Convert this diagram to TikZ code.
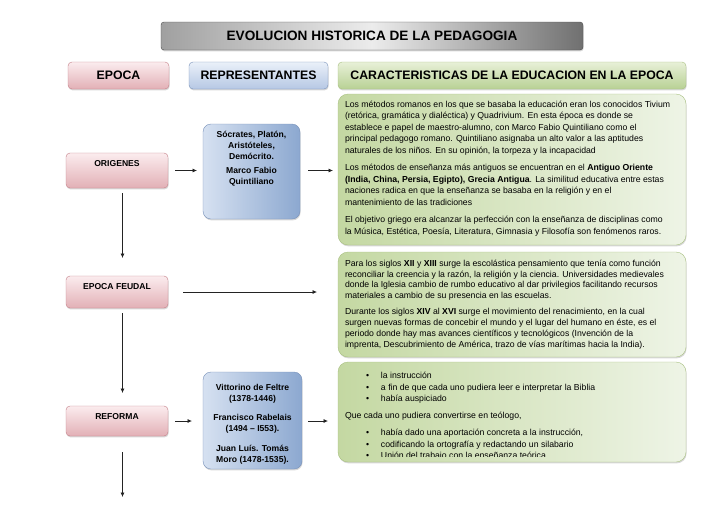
\documentclass[tikz,border=0pt]{standalone}
\usepackage{fontspec}
\setmainfont{Liberation Sans}
\usepackage{tikz}
\usetikzlibrary{positioning,calc,shadows,arrows.meta}

\definecolor{titleL}{RGB}{160,160,160}
\definecolor{titleM}{RGB}{236,236,236}
\definecolor{titleR}{RGB}{112,112,112}
\definecolor{pinkT}{RGB}{251,236,238}
\definecolor{pinkB}{RGB}{226,176,182}
\definecolor{pinkD}{RGB}{196,128,136}
\definecolor{blueT}{RGB}{234,240,249}
\definecolor{blueB}{RGB}{182,200,228}
\definecolor{blueL}{RGB}{214,225,241}
\definecolor{blueR}{RGB}{140,168,208}
\definecolor{blueD}{RGB}{120,145,185}
\definecolor{greenT}{RGB}{232,240,216}
\definecolor{greenB}{RGB}{184,209,148}
\definecolor{greenL}{RGB}{196,216,162}
\definecolor{greenR}{RGB}{238,244,230}
\definecolor{greenD}{RGB}{168,192,128}
\definecolor{arrowC}{RGB}{35,35,35}

\newcommand{\punto}[1]{\hspace*{21pt}\makebox[15pt][l]{\textbullet}#1}

\begin{document}
\begin{tikzpicture}[
    x=1pt, y=-1pt,
    every node/.style={font=\fontsize{8.7}{11.5}\selectfont, outer sep=0pt},
    softshadow/.style={drop shadow={opacity=0.3, shadow xshift=0.6pt, shadow yshift=-1.4pt}},
    titlebar/.style={rectangle, draw=gray!60!black, rounded corners=3pt, left color=titleL, right color=titleR, middle color=titleM, minimum width=422pt, minimum height=28pt, anchor=north west, font=\bfseries\fontsize{13.6}{16}\selectfont, softshadow},
    headbox/.style={rectangle, draw, rounded corners=4pt, minimum height=27pt, inner sep=0pt, anchor=north west, font=\bfseries\fontsize{12.3}{14}\selectfont, softshadow},
    epocahead/.style={headbox, draw=pinkD, top color=pinkT, bottom color=pinkB, minimum width=101pt},
    rephead/.style={headbox, draw=blueD, top color=blueT, bottom color=blueB, minimum width=139pt},
    carhead/.style={headbox, draw=greenD, top color=greenT, bottom color=greenB, minimum width=348pt},
    epoca/.style={rectangle, draw=pinkD, rounded corners=4pt, top color=pinkT, bottom color=pinkB, minimum width=102pt, inner sep=0pt, text height=13.5pt, anchor=north west, font=\bfseries\fontsize{8.6}{10.8}\selectfont, softshadow},
    repbox/.style={rectangle, draw=blueD, rounded corners=8pt, left color=blueL, right color=blueR, anchor=north west, softshadow},
    reptext/.style={anchor=north, align=center, inner sep=0pt, font=\bfseries\fontsize{8.6}{10.8}\selectfont},
    textbox/.style={rectangle, draw=greenD, rounded corners=10pt, left color=greenL, right color=greenR, minimum width=348pt, anchor=north west, softshadow},
    bodytext/.style={anchor=north west, align=left, inner sep=0pt},
    arrow/.style={-{Latex[length=4.5pt,width=4pt]}, draw=arrowC, line width=0.7pt}
]
\useasboundingbox (0,0) rectangle (728,515);
\fill[white] (0,0) rectangle (728,515);

% ============ TITLE AND HEADERS ============
\node[titlebar] (title) at (161,22) {EVOLUCION HISTORICA DE LA PEDAGOGIA};

\node[epocahead] (hepoca) at (68,62) {EPOCA};
\node[rephead, right=20pt of hepoca] (hrep) {REPRESENTANTES};
\node[carhead, right=10pt of hrep] (hcar) {CARACTERISTICAS DE LA EDUCACION EN LA EPOCA};

% ============ EPOCAS (LEFT) ============
\node[epoca, text depth=21.5pt] (origenes) at (66,153) {ORIGENES};
\node[epoca, text depth=18.5pt] (feudal) at (66,276) {EPOCA FEUDAL};
\node[epoca, text depth=16.5pt] (reforma) at (66,406) {REFORMA};

% ============ REPRESENTANTES ============
\node[repbox, minimum width=97pt, minimum height=95pt] (rep1) at (203,124) {};
\node[reptext] (rep1txt) at ([yshift=-7.6pt]rep1.north) {Sócrates, Platón,\\ Aristóteles,\\ Demócrito.\\[3pt] Marco Fabio\\ Quintiliano};

\node[repbox, minimum width=99pt, minimum height=97pt] (rep2) at (203,372) {};
\node[reptext] (rep2txt) at ([yshift=-12pt]rep2.north) {Vittorino de Feltre\\ (1378-1446)\\[9pt] Francisco Rabelais\\ (1494 -- I553).\\[9pt] Juan Luís. Tomás\\ Moro (1478-1535).};

% ============ CARACTERISTICAS ============
\node[textbox, minimum height=151pt] (green1) at (338,94) {};
\node[bodytext] (g1txt) at ([xshift=7pt,yshift=-7pt]green1.north west) {%
Los métodos romanos en los que se basaba la educación eran los conocidos Tivium\\
(retórica, gramática y dialéctica) y Quadrivium. En esta época es donde se\\
establece e papel de maestro-alumno, con Marco Fabio Quintiliano como el\\
principal pedagogo romano. Quintiliano asignaba un alto valor a las aptitudes\\
naturales de los niños. En su opinión, la torpeza y la incapacidad\\[6pt]
Los métodos de enseñanza más antiguos se encuentran en el \textbf{Antiguo Oriente}\\
\textbf{(India, China, Persia, Egipto), Grecia Antigua}. La similitud educativa entre estas\\
naciones radica en que la enseñanza se basaba en la religión y en el\\
mantenimiento de las tradiciones\\[6pt]
El objetivo griego era alcanzar la perfección con la enseñanza de disciplinas como\\
la Música, Estética, Poesía, Literatura, Gimnasia y Filosofía son fenómenos raros.};

\node[textbox, minimum height=105pt, below=7pt of green1] (green2) {};
\node[bodytext, font=\fontsize{8.7}{10.9}\selectfont] (g2txt) at ([xshift=7pt,yshift=-7.7pt]green2.north west) {%
Para los siglos \textbf{XII} y \textbf{XIII} surge la escolástica pensamiento que tenía como función\\
reconciliar la creencia y la razón, la religión y la ciencia. Universidades medievales\\
donde la Iglesia cambio de rumbo educativo al dar privilegios facilitando recursos\\
materiales a cambio de su presencia en las escuelas.\\[5pt]
Durante los siglos \textbf{XIV} al \textbf{XVI} surge el movimiento del renacimiento, en la cual\\
surgen nuevas formas de concebir el mundo y el lugar del humano en éste, es el\\
periodo donde hay mas avances científicos y tecnológicos (Invención de la\\
imprenta, Descubrimiento de América, trazo de vías marítimas hacia la India).};

\node[textbox, minimum height=100pt, below=5pt of green2] (green3) {};
\begin{scope}
  \clip ([xshift=2pt,yshift=-2pt]green3.north west) rectangle ([xshift=-2pt,yshift=6pt]green3.south east);
  \node[bodytext] (g3txt) at ([xshift=7pt,yshift=-10.5pt]green3.north west) {%
  \punto{la instrucción}\\
  \punto{a fin de que cada uno pudiera leer e interpretar la Biblia}\\
  \punto{había auspiciado}\\[5.5pt]
  Que cada uno pudiera convertirse en teólogo,\\[5.5pt]
  \punto{había dado una aportación concreta a la instrucción,}\\
  \punto{codificando la ortografía y redactando un silabario}\\
  \punto{Unión del trabajo con la enseñanza teórica}};
\end{scope}

% ============ ARROWS ============
\coordinate (fin) at ($(reforma.south)+(5.5,61)$);

\draw[arrow, shorten <=7pt, shorten >=6pt] (origenes.east) -- (origenes.east -| rep1.west);
\draw[arrow, shorten <=8pt, shorten >=5pt] (rep1.east |- origenes.east) -- (green1.west |- origenes.east);
\draw[arrow, shorten <=15pt, shorten >=21pt] (feudal.east) -- (feudal.east -| green2.west);
\draw[arrow, shorten <=7pt, shorten >=11pt] (reforma.east) -- (reforma.east -| rep2.west);
\draw[arrow, shorten <=6pt, shorten >=10pt] (rep2.east |- reforma.east) -- (green3.west |- reforma.east);

\draw[arrow, shorten <=5pt, shorten >=18pt] ([xshift=5.5pt]origenes.south) -- ([xshift=5.5pt]feudal.north);
\draw[arrow, shorten <=5pt, shorten >=13pt] ([xshift=5.5pt]feudal.south) -- ([xshift=5.5pt]reforma.north);
\draw[arrow, shorten <=16pt] ([xshift=5.5pt]reforma.south) -- (fin);

\end{tikzpicture}
\end{document}
